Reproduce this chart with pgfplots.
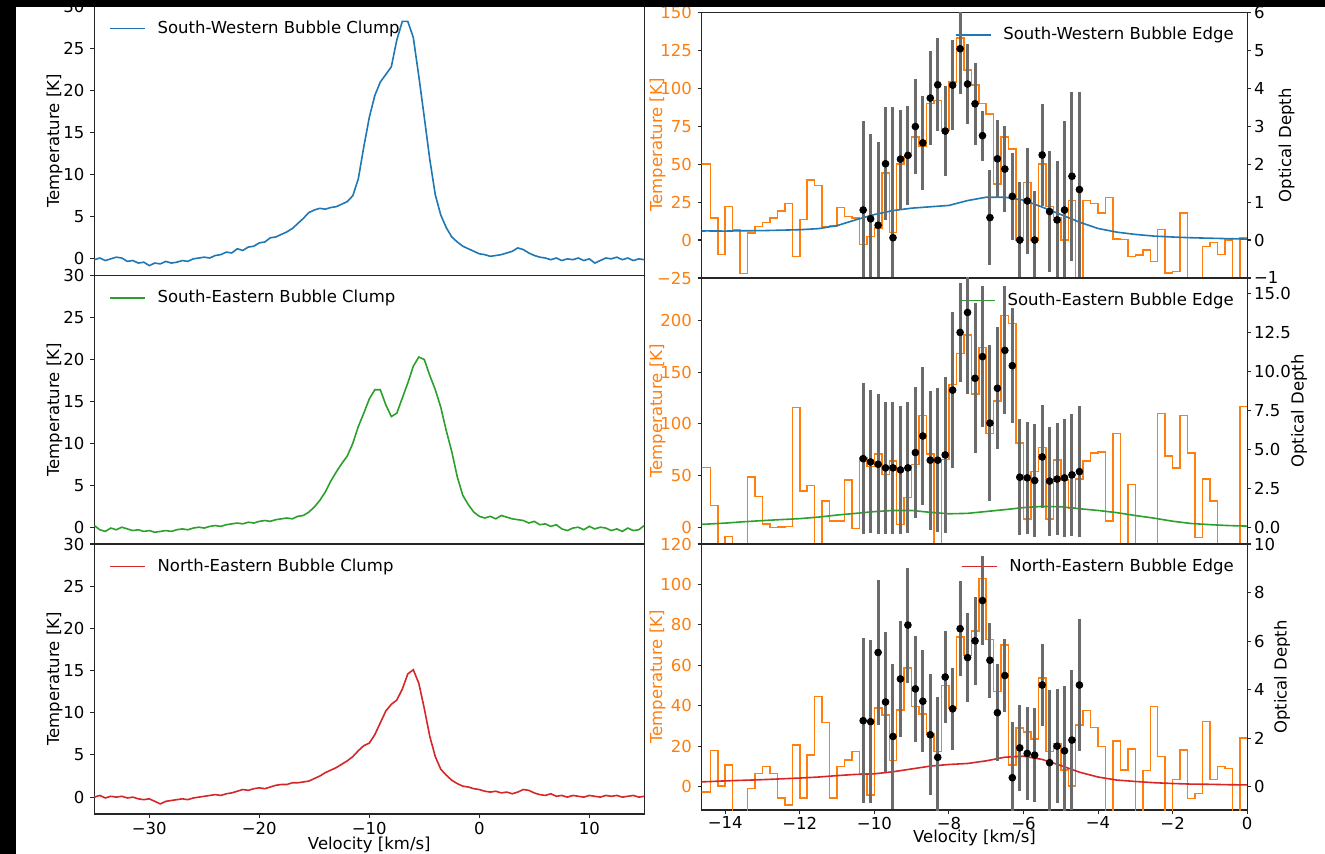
\documentclass[border=0pt]{standalone}
\usepackage{fontspec}
\setmainfont{DejaVu Sans}
\usepackage{pgfplots}
\usepackage{pgfplotstable}
\pgfplotsset{compat=1.18}
\definecolor{mblue}{HTML}{1F77B4}
\definecolor{morange}{HTML}{FF7F0E}
\definecolor{mgreen}{HTML}{2CA02C}
\definecolor{mred}{HTML}{D62728}

\pgfplotstableread{
v sw se ne
-35 -0.1 0.2 0.0
-34.5 0.1 -0.3 0.2
-34 -0.2 -0.5 -0.1
-33.5 0.0 -0.1 0.1
-33 0.2 -0.3 0.0
-32.5 0.1 0.0 0.1
-32 -0.3 -0.2 -0.1
-31.5 -0.2 -0.4 0.0
-31 -0.5 -0.3 -0.2
-30.5 -0.4 -0.5 -0.3
-30 -0.8 -0.4 -0.2
-29.5 -0.5 -0.6 -0.5
-29 -0.6 -0.5 -0.8
-28.5 -0.3 -0.4 -0.5
-28 -0.5 -0.5 -0.4
-27.5 -0.4 -0.3 -0.3
-27 -0.2 -0.2 -0.2
-26.5 -0.3 -0.3 -0.3
-26 0.0 -0.1 -0.1
-25.5 0.1 0.0 0.0
-25 0.2 -0.1 0.1
-24.5 0.1 0.1 0.2
-24 0.4 0.2 0.3
-23.5 0.5 0.1 0.2
-23 0.8 0.3 0.4
-22.5 0.7 0.4 0.5
-22 1.2 0.5 0.7
-21.5 1.0 0.4 0.9
-21 1.4 0.6 0.8
-20.5 1.5 0.5 1.0
-20 1.9 0.7 1.1
-19.5 2.0 0.8 1.0
-19 2.5 0.7 1.2
-18.5 2.6 0.9 1.4
-18 2.9 1.0 1.5
-17.5 3.2 1.1 1.5
-17 3.6 1.0 1.7
-16.5 4.2 1.3 1.7
-16 4.8 1.4 1.8
-15.5 5.5 1.8 1.9
-15 5.8 2.4 2.2
-14.5 6.0 3.2 2.5
-14 5.9 4.2 2.9
-13.5 6.1 5.5 3.2
-13 6.2 6.6 3.5
-12.5 6.5 7.6 3.9
-12 6.8 8.5 4.3
-11.5 7.5 10.0 4.8
-11 9.5 12.0 5.5
-10.5 13.3 13.6 6.1
-10 16.8 15.3 6.4
-9.5 19.4 16.4 7.4
-9 21.0 16.4 8.8
-8.5 21.9 14.6 10.2
-8 22.8 13.2 11.0
-7.5 26.0 13.6 11.5
-7 28.2 15.4 12.8
-6.5 28.2 17.2 14.6
-6 26.3 19.2 15.1
-5.5 21.7 20.3 13.5
-5 16.8 20.0 10.5
-4.5 11.8 18.1 7.2
-4 7.6 16.4 4.8
-3.5 5.2 14.3 3.3
-3 3.7 11.5 2.6
-2.5 2.6 9.0 2.0
-2 2.0 6.0 1.6
-1.5 1.5 3.8 1.3
-1 1.2 2.7 1.2
-0.5 0.9 1.8 1.0
0 0.6 1.3 0.9
0.5 0.5 1.1 0.7
1 0.3 1.3 0.6
1.5 0.4 1.0 0.7
2 0.5 1.4 0.5
2.5 0.7 1.2 0.6
3 0.9 1.0 0.4
3.5 1.3 0.9 0.6
4 1.1 0.8 0.9
4.5 0.7 0.5 0.8
5 0.4 0.7 0.5
5.5 0.2 0.3 0.3
6 0.1 0.4 0.2
6.5 -0.1 0.1 0.4
7 0.1 0.3 0.1
7.5 -0.2 -0.2 0.2
8 0.0 -0.4 0.0
8.5 -0.1 -0.1 0.2
9 0.1 0.0 0.1
9.5 -0.2 -0.3 0.0
10 0.0 0.1 0.2
10.5 -0.5 -0.2 0.1
11 -0.2 0.0 0.0
11.5 0.1 -0.1 0.2
12 0.0 -0.4 0.1
12.5 0.2 -0.2 0.2
13 -0.1 -0.5 0.0
13.5 0.1 -0.1 0.1
14 -0.2 -0.4 0.2
14.5 0.0 -0.3 0.0
15 -0.1 0.2 0.1
}\clumps

\pgfplotstableread{
x a b c
-14.65 50 58 -2.5
-14.4 14.5 21 18
-14.2 -9.6 -30 0.3
-14.0 22 -8.6 10.7
-13.8 7 -30 -13
-13.6 -22 -30 -20
-13.4 4.6 48.6 -0.8
-13.2 9 30 6.6
-13.0 11.6 3.2 10
-12.8 14.5 0 6.6
-12.6 19 0.5 -5.5
-12.4 24 1 -9
-12.2 -10.7 116 20.7
-12.0 13.4 35 -5.5
-11.8 39.7 40.6 15.7
-11.6 36 -30 44.6
-11.4 9 25.6 31.7
-11.2 9.4 6.4 -5.5
-11.0 21.5 6.4 10
-10.8 15.6 46 13.2
-10.6 14.5 -1 17.4
-10.4 -3 67 6.6
-10.2 2.4 59 -4
-10.0 8 71 39
-9.8 44 51 35.5
-9.6 5 64 13
-9.4 50 3 38
-9.2 55 29 58.7
-9.0 68 61 39.7
-8.8 62 108 36
-8.6 90 71 26
-8.4 92 -30 17.4
-8.2 72 65.6 50
-8.0 104 138 39
-7.8 133 168 74
-7.6 112 186 65
-7.4 102 129 77
-7.2 90 174 103
-7.0 83 90.6 72.7
-6.8 37 122 47
-6.6 68 205 70
-6.4 60 197 10.7
-6.2 0 81.6 29
-6.0 38 8 27
-5.8 0 54 23.6
-5.6 50 77 53.7
-5.4 22 8 17.4
-5.2 15 65 21.5
-5.0 0 46 8.3
-4.8 26 19 0.3
-4.6 -30 47 30.6
-4.4 26 64 37.7
-4.2 24 72 29.4
-4.0 17.7 73 19.8
-3.8 28 6.4 -20
-3.6 0.6 91 22.6
-3.4 0.5 -30 8.3
-3.2 -10.7 41.6 18.7
-3.0 -10 -30 -20
-2.8 -6.4 -30 8
-2.6 -14 -30 39.7
-2.4 6.8 110 14.9
-2.2 -21.7 69 -20
-2.0 -20.6 57.6 3.6
-1.8 17.7 108 18.2
-1.6 -30 72 -5.8
-1.4 -28 -9.6 -3.3
-1.2 -4.2 47 32.2
-1.0 -1.5 25.6 3.6
-0.8 -9.6 -30 9.9
-0.6 0 -30 9
-0.4 -30 -30 -20
-0.2 1.3 117 24
0 1.3 117 24
}\steps

\pgfplotstableread{
v ta ea tb eb tc ec
-10.3 0.79 2.35 4.40 4.85 2.72 3.4
-10.1 0.56 2.24 4.19 4.58 2.68 3.35
-9.9 0.39 2.18 4.04 4.5 5.53 3.0
-9.7 2.01 1.49 3.81 4.23 3.49 2.9
-9.5 0.06 3.44 3.81 4.23 2.07 2.97
-9.3 2.13 1.3 3.68 4.1 4.44 2.4
-9.1 2.23 1.3 3.81 4.2 6.66 2.37
-8.9 2.99 1.26 4.79 4.2 4.03 2.2
-8.7 2.56 1.23 5.85 4.4 3.52 2.1
-8.5 3.74 1.23 4.30 4.45 2.14 2.5
-8.3 4.09 1.22 4.30 4.6 1.21 2.5
-8.1 2.87 1.19 4.64 5.0 4.52 1.9
-7.9 4.08 1.18 8.79 5.0 3.21 1.7
-7.7 5.04 1.2 12.49 3.2 6.51 1.95
-7.5 4.11 1.05 13.77 5.2 5.32 1.85
-7.3 3.59 1.08 9.55 4.8 6.01 1.8
-7.1 2.75 0.66 10.94 4.5 7.67 1.85
-6.9 0.59 1.26 6.68 5.0 5.21 1.55
-6.7 2.14 1.02 8.91 3.9 3.05 2.0
-6.5 1.87 1.13 11.34 4.1 4.58 1.5
-6.3 1.15 1.14 10.36 3.7 0.37 2.3
-6.1 0.0 1.53 3.21 3.7 1.6 1.78
-5.9 1.03 1.39 3.17 3.6 1.37 1.9
-5.7 0.0 1.28 3.0 3.6 1.3 1.95
-5.5 2.24 1.35 4.51 3.3 4.19 1.67
-5.3 0.75 1.59 2.96 3.5 0.99 3.0
-5.1 0.53 1.54 3.09 3.6 1.67 2.36
-4.9 0.79 2.34 3.17 3.8 1.48 2.66
-4.7 1.68 2.23 3.36 3.9 1.92 2.87
-4.5 1.33 2.58 3.57 4.2 4.19 2.73
}\taudata

\pgfplotsset{
  base/.style={
    scale only axis, anchor=north west,
    axis line style={line width=0.55pt, black!85},
    every tick/.style={black!85, line width=0.55pt},
    tick align=outside, major tick length=2pt,
    legend style={draw=none, fill=none, inner sep=0pt, column sep=6pt,
      nodes={inner sep=0pt}},
    legend image code/.code={\draw[#1] (0pt,0pt) -- (17.5pt,0pt);},
  },
  lpanel/.style={base, width=275pt, xmin=-35, xmax=15, ymin=-2, ymax=30,
    ytick={0,5,10,15,20,25,30}, yticklabels={0,5,10,15,20,25,30}, ytick pos=left,
    ylabel={Temperature [K]},
    ylabel style={at={(axis description cs:-0.072,0.5)}, anchor=center},
    legend style={at={(axis description cs:0.026,0.917)}, anchor=west},
  },
  rtemp/.style={base, width=272.75pt, xmin=-14.63, xmax=0, ytick pos=left,
    yticklabel style={text=morange},
    ylabel={Temperature [K]},
    ylabel style={at={(axis description cs:-0.081,0.5)}, anchor=center, text=morange},
    legend style={at={(axis description cs:0.976,0.915)}, anchor=east},
  },
  rtau/.style={base, width=272.75pt, xmin=-14.63, xmax=0,
    axis x line=none, axis y line*=right,
    yticklabel style={xshift=-1.5pt},
    ylabel={Optical Depth},
  },
  xbottomL/.style={xtick={-30,-20,-10,0,10}, xticklabels={−30,−20,−10,0,10}, xtick pos=bottom,
    xticklabel style={yshift=1pt},
    xlabel={Velocity [km/s]},
    xlabel style={at={(axis description cs:0.5,-0.116)}, anchor=center}},
  xbottomR/.style={xtick={-14,-12,-10,-8,-6,-4,-2,0}, xticklabels={−14,−12,−10,−8,−6,−4,−2,0}, xtick pos=bottom,
    xticklabel style={yshift=1.5pt},
    xlabel={Velocity [km/s]},
    xlabel style={at={(axis description cs:0.5,-0.106)}, anchor=center}},
  dotplot/.style={only marks, mark=*, mark size=1.7pt, black,
    error bars/.cd, y dir=both, y explicit, error mark=none,
    error bar style={line width=1.5pt, black!58}},
  orng/.style={morange, line width=0.75pt, const plot mark left, forget plot},
}

\begin{document}
\fontsize{8.25}{9.9}\selectfont
\begin{tikzpicture}
\useasboundingbox (0,0) rectangle (662.5pt,-427pt);
\fill[white] (0,0) rectangle (662.5pt,-427pt);

% ---------- left column ----------
\begin{axis}[lpanel, at={(47.15pt,-3.15pt)}, height=134.7pt, xtick=\empty]
\addplot[mblue, line width=0.8pt] table[x=v,y=sw] {\clumps};
\addlegendentry{South-Western Bubble Clump}
\end{axis}

\begin{axis}[lpanel, at={(47.15pt,-137.85pt)}, height=134.15pt, xtick=\empty]
\addplot[mgreen, line width=0.8pt] table[x=v,y=se] {\clumps};
\addlegendentry{South-Eastern Bubble Clump}
\end{axis}

\begin{axis}[lpanel, xbottomL, at={(47.15pt,-272pt)}, height=135pt]
\addplot[mred, line width=0.8pt] table[x=v,y=ne] {\clumps};
\addlegendentry{North-Eastern Bubble Clump}
\end{axis}

% ---------- right column, top ----------
\begin{axis}[rtemp, at={(350.85pt,-6.15pt)}, height=132.85pt, xtick=\empty,
  ymin=-25, ymax=150, ytick={-25,0,25,50,75,100,125,150},
  yticklabels={−25,0,25,50,75,100,125,150}]
\addplot[orng] table[x=x,y=a] {\steps};
\addplot[mblue, line width=0.8pt] table[x=v,y=sw] {\clumps};
\addlegendentry{South-Western Bubble Edge}
\end{axis}
\begin{axis}[rtau, at={(350.85pt,-6.15pt)}, height=132.85pt,
  ylabel style={at={(axis description cs:1.072,0.5)}, anchor=center},
  ymin=-1, ymax=6, ytick={-1,0,1,2,3,4,5,6}, yticklabels={−1,0,1,2,3,4,5,6}]
\addplot[dotplot] table[x=v,y=ta,y error=ea] {\taudata};
\end{axis}

% ---------- right column, middle ----------
\begin{axis}[rtemp, at={(350.85pt,-139pt)}, height=133pt, xtick=\empty,
  ymin=-16, ymax=241, ytick={0,50,100,150,200}, yticklabels={0,50,100,150,200}]
\addplot[orng] table[x=x,y=b] {\steps};
\addplot[mgreen, line width=0.8pt] table[x=v,y=se] {\clumps};
\addlegendentry{South-Eastern Bubble Edge}
\end{axis}
\begin{axis}[rtau, at={(350.85pt,-139pt)}, height=133pt,
  ylabel style={at={(axis description cs:1.095,0.5)}, anchor=center},
  ymin=-1.07, ymax=15.98, ytick={0,2.5,5,7.5,10,12.5,15},
  yticklabels={0.0,2.5,5.0,7.5,10.0,12.5,15.0}]
\addplot[dotplot] table[x=v,y=tb,y error=eb] {\taudata};
\end{axis}

% ---------- right column, bottom ----------
\begin{axis}[rtemp, xbottomR, at={(350.85pt,-272pt)}, height=133pt,
  ymin=-11.5, ymax=120, ytick={0,20,40,60,80,100,120}, yticklabels={0,20,40,60,80,100,120}]
\addplot[orng] table[x=x,y=c] {\steps};
\addplot[mred, line width=0.8pt] table[x=v,y=ne] {\clumps};
\addlegendentry{North-Eastern Bubble Edge}
\end{axis}
\begin{axis}[rtau, at={(350.85pt,-272pt)}, height=133pt,
  ylabel style={at={(axis description cs:1.064,0.5)}, anchor=center},
  ymin=-0.96, ymax=10, ytick={0,2,4,6,8,10}, yticklabels={0,2,4,6,8,10}]
\addplot[dotplot] table[x=v,y=tc,y error=ec] {\taudata};
\end{axis}

% black borders of the cropped figure
\fill[black] (0,0) rectangle (8pt,-427pt);
\fill[black] (0,0) rectangle (662.5pt,-3.5pt);
\end{tikzpicture}
\end{document}
